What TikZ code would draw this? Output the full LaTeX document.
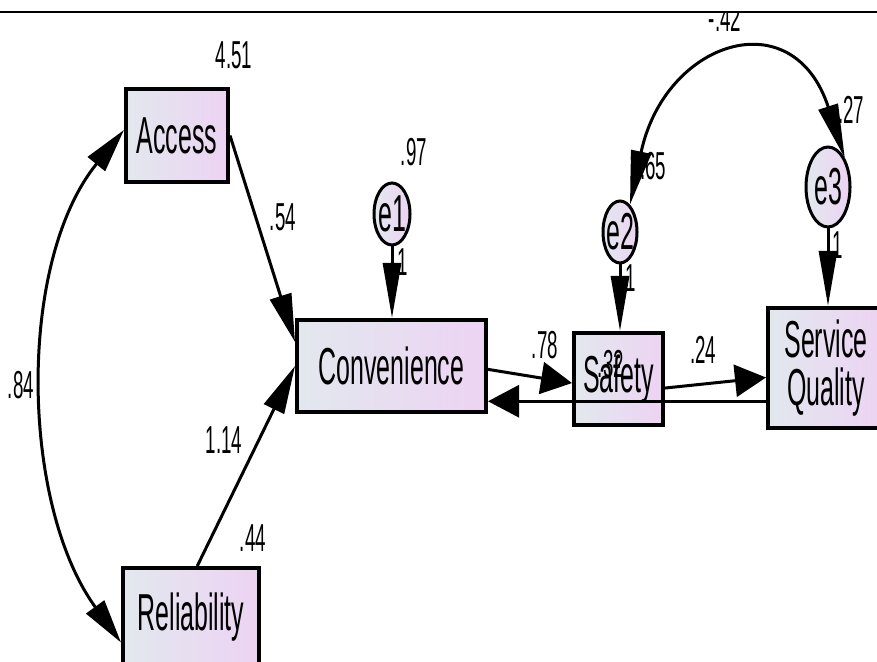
\documentclass[tikz,border=0pt]{standalone}
\usepackage{fontspec}
\setmainfont{Liberation Sans}[FakeStretch=0.48]
\usepackage{tikz}
\usetikzlibrary{arrows.meta,shapes.geometric}
\definecolor{shadel}{HTML}{E2E8EE}
\definecolor{shader}{HTML}{EDD3F3}
\tikzset{
  box/.style={draw=black,line width=2pt,left color=shadel,right color=shader,align=center,inner sep=0pt,font=\fontsize{26}{24}\selectfont},
  err/.style={ellipse,draw=black,line width=1.5pt,left color=shadel,right color=shader,inner xsep=-1pt,inner ysep=0pt,font=\fontsize{26}{24}\selectfont},
  lbl/.style={inner sep=0pt,font=\fontsize{19.5}{19.5}\selectfont},
  arv/.style={-{Triangle[length=27.5pt,width=9pt]},line width=1.5pt},
  arh/.style={-{Triangle[length=15.5pt,width=16pt]},line width=1.5pt},
  ard/.style={-{Triangle[length=24pt,width=11pt]},line width=1.5pt},
  cov/.style={{Triangle[length=22pt,width=11pt]}-{Triangle[length=22pt,width=11pt]},line width=1.5pt},
  covv/.style={{Triangle[length=27pt,width=10pt]}-{Triangle[length=27pt,width=10pt]},line width=1.5pt}
}
\begin{document}
\begin{tikzpicture}[x=0.5pt,y=0.5pt]
\useasboundingbox (0,0) rectangle (877,-662);
\draw[line width=1.2pt] (0,-12) -- (877,-12);
\begin{scope}
\clip (0,-13.5) rectangle (877,-662);
% observed variables
\node[box,minimum width=51pt,minimum height=46.5pt] (acc) at (177,-135.5) {Access};
\node[box,minimum width=94.5pt,minimum height=46pt] (conv) at (391.5,-366) {Convenience};
\node[box,minimum width=68pt,minimum height=49pt] (rel) at (191,-617) {Reliability};
\node[box,minimum width=44.5pt,minimum height=46pt] (safe) at (618.5,-379) {};
\node[box,minimum width=58pt,minimum height=60pt] (sq) at (826,-368) {Service\\Quality};
% error terms
\node[err,minimum width=18pt,minimum height=31pt] (e1) at (392,-214) {e1};
\node[err,minimum width=17pt,minimum height=31pt] (e2) at (620,-232) {e2};
\node[err,minimum width=22pt,minimum height=40pt] (e3) at (828,-187) {e3};
% estimates
\node[lbl] (vacc) at (234,-55) {4.51};
\node[lbl] (vrel) at (253,-538) {.44};
\node[lbl] (ve1) at (414,-152) {.97};
\node[lbl] (ve2) at (648,-166) {1.65};
\node[lbl] (ve3) at (851,-110) {.27};
\node[lbl] (cacc) at (21,-385) {.84};
\node[lbl] (ce) at (725,-18) {-.42};
\node[lbl] (pacc) at (283,-217) {.54};
\node[lbl] (prel) at (224,-440) {1.14};
\node[lbl] (pconv) at (545,-345) {.78};
\node[lbl] (psafe) at (703,-350) {.24};
\node[lbl] (w1) at (403,-262) {1};
\node[lbl] (w2) at (631,-278) {1};
\node[lbl] (w3) at (838,-245) {1};
\node[lbl] (rsafe) at (611,-364) {.32};
\node[font=\fontsize{26}{24}\selectfont,inner sep=0pt] (tsafe) at (safe) {Safety};
% paths
\draw[ard] (acc.east) -- (conv.166);
\draw[ard] (rel.83) -- (conv.west);
\draw[arv] (e1.south) -- (e1.south |- conv.north);
\draw[arv] (e2.south) -- (e2.south |- safe.north);
\draw[arv] (e3.south) -- (e3.south |- sq.north);
\draw[arh] (conv.-2) -- (safe.185);
\draw[arh] (safe.-11) -- (sq.189);
\draw[arh] (sq.209) -- (sq.209 -| conv.east);
\draw[cov] (acc.174) to[out=231,in=126,looseness=0.85] (rel.200);
\draw[covv] (e2.70) to[out=78,in=108,looseness=1.95] (e3.60);
\end{scope}
\end{tikzpicture}
\end{document}
